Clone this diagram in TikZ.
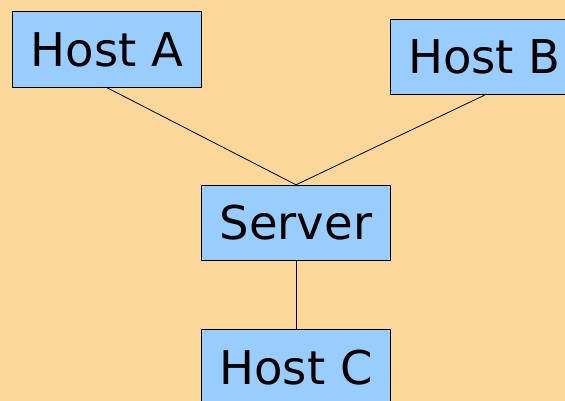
\documentclass[tikz,border=0pt]{standalone}
\usepackage{fontspec}
\setmainfont{DejaVu Sans}
\definecolor{paper}{HTML}{FCD79A}
\definecolor{boxblue}{HTML}{99CCFF}
\begin{document}
\begin{tikzpicture}[x=1pt,y=-1pt,
  hostbox/.style={draw=black, line width=0.9pt, fill=boxblue,
    minimum width=189pt, minimum height=75.5pt, inner sep=0pt,
    font=\fontsize{46.5}{50}\selectfont},
  link/.style={draw=black, line width=0.8pt}]
  \clip (0,0) rectangle (565,401);
  \fill[paper] (0,0) rectangle (565,401);
  \node[hostbox] (hostA) at (107,49.5) {Host A};
  \node[hostbox] (hostB) at (484.5,57) {Host B};
  \node[hostbox] (server) at (296,223) {Server};
  \node[hostbox, anchor=north] (hostC) at (296,329.3) {Host C};
  \draw[link] (hostA.south) -- (server.north);
  \draw[link] (hostB.south) -- (server.north);
  \draw[link] (server.south) -- (hostC.north);
\end{tikzpicture}
\end{document}
